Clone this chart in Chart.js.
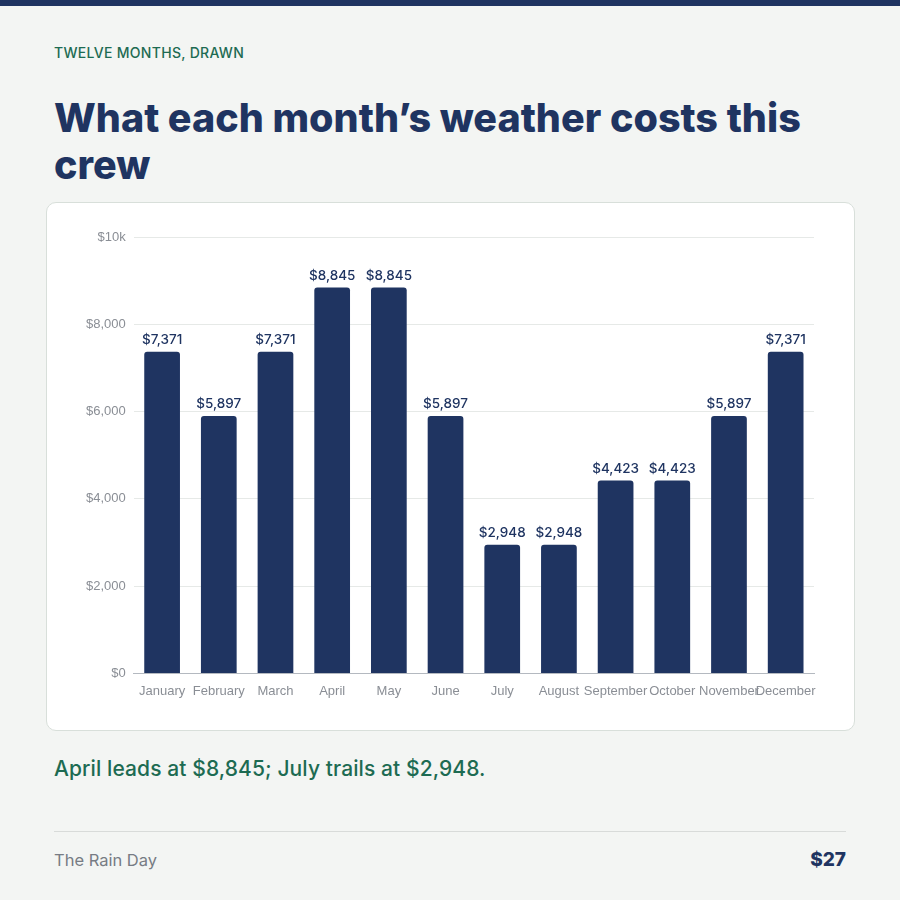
<!DOCTYPE html>
<html><head><meta charset="utf-8">
<script src="https://cdn.jsdelivr.net/npm/chart.js@4.4.1/dist/chart.umd.min.js"></script>
<style>
html,body{margin:0;padding:0;}
body{width:900px;height:900px;background:#f3f5f3;position:relative;overflow:hidden;font-family:"Inter","Noto Sans",sans-serif;}
.topbar{position:absolute;left:0;top:0;width:900px;height:6px;background:#1f3461;}
.eyebrow{position:absolute;left:54px;top:44px;font-size:14px;color:#1d6b52;letter-spacing:0.3px;font-weight:500;}
h1{position:absolute;left:54px;top:95px;width:800px;margin:0;font-size:39.5px;line-height:47px;font-weight:800;color:#1f3461;letter-spacing:0;}
.card{position:absolute;left:46px;top:202px;width:807px;height:527px;background:#fff;border:1px solid #d8dfda;border-radius:10px;}
.chartwrap{position:absolute;left:0;top:0;width:807px;height:527px;}
.caption{position:absolute;left:54px;top:756px;font-size:21px;color:#1d6b52;font-weight:500;letter-spacing:0.1px;}
.rule{position:absolute;left:54px;top:831px;width:792px;height:1px;background:#d8dbd9;}
.foot{position:absolute;left:54px;top:850px;font-size:16.5px;color:#777c84;}
.price{position:absolute;right:54px;top:848px;font-size:19px;color:#1f3461;font-weight:800;}
</style></head>
<body>
<div class="topbar"></div>
<div class="eyebrow">TWELVE MONTHS, DRAWN</div>
<h1>What each month’s weather costs this crew</h1>
<div class="card"><div class="chartwrap"><canvas id="c"></canvas></div></div>
<div class="caption">April leads at $8,845; July trails at $2,948.</div>
<div class="rule"></div>
<div class="foot">The Rain Day</div>
<div class="price">$27</div>
<script>
const months = ["January","February","March","April","May","June","July","August","September","October","November","December"];
const costs = [7371,5897,7371,8845,8845,5897,2948,2948,4423,4423,5897,7371];
const yTicks = [0,2000,4000,6000,8000,10000];

const labelPlugin = {
  id:'barLabels',
  afterDatasetsDraw(chart){
    const ctx = chart.ctx;
    const meta = chart.getDatasetMeta(0);
    ctx.save();
    ctx.font = '500 13.5px Inter, "Noto Sans", sans-serif';
    ctx.fillStyle = '#1f3461';
    ctx.textAlign = 'center';
    ctx.textBaseline = 'bottom';
    meta.data.forEach((bar,i)=>{
      ctx.fillText('$'+costs[i].toLocaleString('en-US'), bar.x, bar.y-5);
    });
    ctx.restore();
  }
};

new Chart(document.getElementById('c'),{
  type:'bar',
  data:{labels:months,datasets:[{data:costs,backgroundColor:'#1f3461',borderRadius:3,borderSkipped:'bottom',barPercentage:0.9,categoryPercentage:0.7}]},
  options:{
    responsive:true,maintainAspectRatio:false,animation:false,
    layout:{padding:{left:31,right:40,top:34,bottom:29}},
    plugins:{legend:{display:false},tooltip:{enabled:false}},
    scales:{
      y:{min:0,max:10000,
        afterBuildTicks(axis){axis.ticks = yTicks.map(v=>({value:v}));},
        grid:{color:'#e6e9e7',drawTicks:false},
        border:{display:false},
        ticks:{padding:8,color:'#8a8e95',font:{size:13,family:'"Liberation Sans", Arial, sans-serif'},
          callback:v=> v===10000 ? '$10k' : '$'+v.toLocaleString('en-US')}
      },
      x:{grid:{display:false},
        border:{display:true,color:'#b4b9c0'},
        ticks:{autoSkip:false,maxRotation:0,minRotation:0,padding:2,color:'#8a8e95',font:{size:13,family:'"Liberation Sans", Arial, sans-serif'}}
      }
    }
  },
  plugins:[labelPlugin]
});
</script>
</body></html>
